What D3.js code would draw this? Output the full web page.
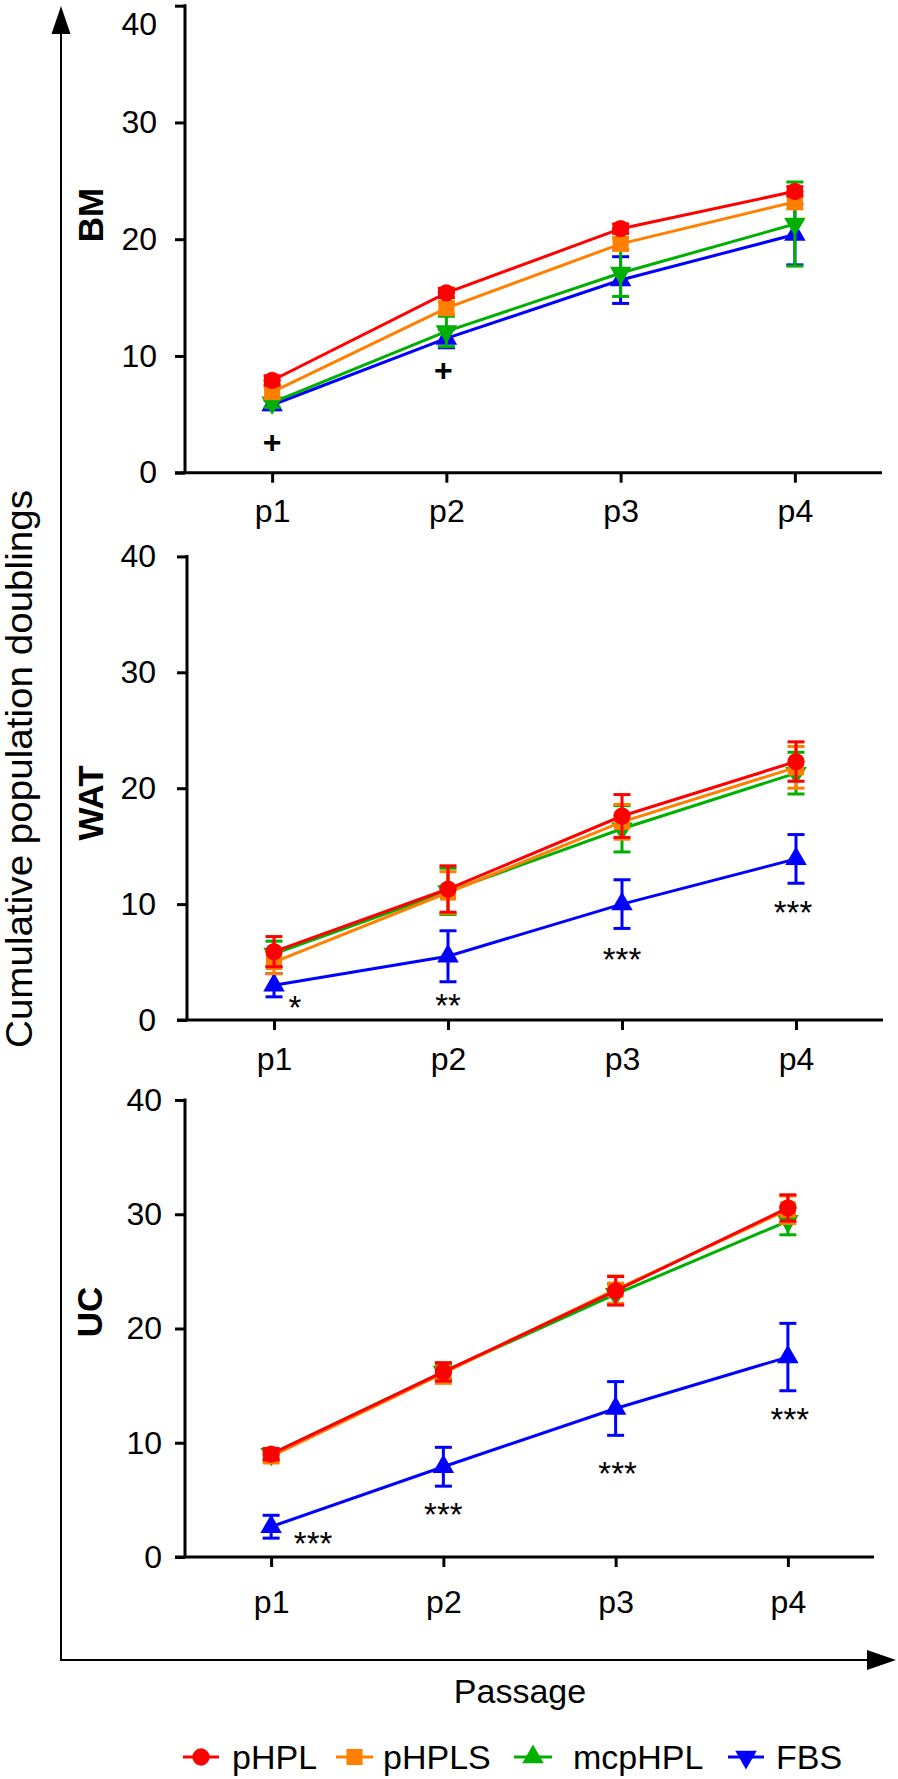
<!DOCTYPE html>
<html><head><meta charset="utf-8">
<script src="https://cdn.jsdelivr.net/npm/d3@7"></script>
<style>body{margin:0;background:#fff} svg{display:block} text{font-family:"Liberation Sans",Arial,Helvetica,sans-serif}</style>
</head><body><svg id="c" width="898" height="1779"></svg>
<script>
// ---------- data ----------
const passages = ["p1","p2","p3","p4"];
const seriesNames = ["pHPL","pHPLS","mcpHPL","FBS"];
const yTickValues = [0,10,20,30,40];
const panelNames = ["BM","WAT","UC"];

// BM
const bmPHPL      = [7.9, 15.4, 20.9, 24.1];
const bmPHPLErr   = [0.4, 0.4, 0.4, 0.4];
const bmPHPLS     = [6.9, 14.1, 19.6, 23.2];
const bmPHPLSErr  = [0.5, 0.5, 0.5, 0.6];
const bmMcpHPL    = [6.0, 12.1, 17.1, 21.3];
const bmMcpHPLErr = [0.4, 1.3, 2.0, 3.6];
const bmFBS       = [5.8, 11.5, 16.5, 20.4];
const bmFBSErr    = [0.4, 0.8, 2.0, 2.6];
const bmSig       = ["+", "+", "", ""];
const bmSigY      = [2.65, 8.8, 0, 0];

// WAT
const watPHPL      = [5.9, 11.3, 17.6, 22.3];
const watPHPLErr   = [1.3, 2.0, 1.85, 1.7];
const watPHPLS     = [5.0, 11.0, 17.1, 21.8];
const watPHPLSErr  = [1.0, 1.8, 1.5, 1.8];
const watMcpHPL    = [5.7, 11.1, 16.5, 21.3];
const watMcpHPLErr = [1.1, 2.0, 2.0, 1.8];
const watFBS       = [3.0, 5.5, 10.0, 13.9];
const watFBSErr    = [1.0, 2.2, 2.1, 2.1];
const watSig       = ["*", "**", "***", "***"];
const watSigY      = [1.7, 1.9, 5.9, 9.9];

// UC
const ucPHPL      = [9.0, 16.2, 23.3, 30.55];
const ucPHPLErr   = [0.5, 0.8, 1.25, 1.15];
const ucPHPLS     = [8.8, 16.1, 23.4, 30.4];
const ucPHPLSErr  = [0.5, 0.9, 1.2, 1.2];
const ucMcpHPL    = [9.0, 16.2, 23.0, 29.4];
const ucMcpHPLErr = [0.4, 0.6, 0.9, 1.2];
const ucFBS       = [2.65, 7.9, 13.0, 17.5];
const ucFBSErr    = [1.0, 1.7, 2.35, 2.95];
const ucSig       = ["***", "***", "***", "***"];
const ucSigY      = [1.8, 4.4, 8.0, 12.7];

// ---------- styles / layout ----------
const colors = {pHPL:"#ff0000", pHPLS:"#ff8000", mcpHPL:"#00b000", FBS:"#0000ff"};
const plotShape = {pHPL:"circle", pHPLS:"square", mcpHPL:"tdown", FBS:"tup"};
const legendShape = {pHPL:"circle", pHPLS:"square", mcpHPL:"tup", FBS:"tdown"};

const panels = [
  {name:"BM", left:185, right:882, top:5.7, bottom:472.7, labelX:103, labelY:215, tickPad:18, xPad:17,
   series:{pHPL:[bmPHPL,bmPHPLErr], pHPLS:[bmPHPLS,bmPHPLSErr], mcpHPL:[bmMcpHPL,bmMcpHPLErr], FBS:[bmFBS,bmFBSErr]},
   sig:bmSig, sigY:bmSigY, sigDx:[0,-3,0,0]},
  {name:"WAT", left:187, right:883, top:556.4, bottom:1020, labelX:103, labelY:803, tickPad:21, xPad:17,
   series:{pHPL:[watPHPL,watPHPLErr], pHPLS:[watPHPLS,watPHPLSErr], mcpHPL:[watMcpHPL,watMcpHPLErr], FBS:[watFBS,watFBSErr]},
   sig:watSig, sigY:watSigY, sigDx:[21,0,0,-3]},
  {name:"UC", left:185, right:874, top:1100, bottom:1557, labelX:102, labelY:1312, tickPad:13, xPad:23,
   series:{pHPL:[ucPHPL,ucPHPLErr], pHPLS:[ucPHPLS,ucPHPLSErr], mcpHPL:[ucMcpHPL,ucMcpHPLErr], FBS:[ucFBS,ucFBSErr]},
   sig:ucSig, sigY:ucSigY, sigDx:[42,0,2,2]}
];

const svg = d3.select("#c");

function symbolPath(shape){
  if(shape==="circle") return d3.symbol(d3.symbolCircle, 235)();
  if(shape==="square") return d3.symbol(d3.symbolSquare, 260)();
  return d3.symbol(d3.symbolTriangle, 200)();
}
function drawMarker(g, shape, x, y, color){
  g.append("path").attr("d", symbolPath(shape))
    .attr("transform", `translate(${x},${y})` + (shape==="tdown" ? " rotate(180)" : ""))
    .attr("fill", color);
}

const drawOrder = ["FBS","mcpHPL","pHPLS","pHPL"];

panels.forEach(p => {
  const x = d3.scalePoint().domain(passages).range([p.left, p.right]).padding(0.5);
  const y = d3.scaleLinear().domain([0,40]).range([p.bottom, p.top]);
  const g = svg.append("g");

  // y axis
  const ya = g.append("g").attr("transform", `translate(${p.left},0)`)
    .call(d3.axisLeft(y).tickValues(yTickValues).tickSize(10).tickPadding(p.tickPad).tickSizeOuter(0));
  ya.select(".domain").remove();
  ya.selectAll(".tick line").attr("stroke","#000").attr("stroke-width",3);
  ya.selectAll(".tick text").attr("font-size",32).attr("fill","#000")
    .style("font-family",'"Liberation Sans",Arial,sans-serif');
  // keep the top label inside the page (reference shows it fully)
  ya.selectAll(".tick text").filter(d => y(d) < 16).attr("y", 19);

  // x axis
  const xa = g.append("g").attr("transform", `translate(0,${p.bottom})`)
    .call(d3.axisBottom(x).tickSize(10).tickPadding(p.xPad).tickSizeOuter(0));
  xa.select(".domain").remove();
  xa.selectAll(".tick line").attr("stroke","#000").attr("stroke-width",3);
  xa.selectAll(".tick text").attr("font-size",32).attr("fill","#000")
    .style("font-family",'"Liberation Sans",Arial,sans-serif');

  // axis lines
  g.append("line").attr("x1",p.left).attr("x2",p.left).attr("y1",y(40)-1.5).attr("y2",p.bottom)
    .attr("stroke","#000").attr("stroke-width",3);
  g.append("line").attr("x1",p.left-10).attr("x2",p.right).attr("y1",p.bottom).attr("y2",p.bottom)
    .attr("stroke","#000").attr("stroke-width",3);

  // panel label
  g.append("text").attr("transform",`translate(${p.labelX},${p.labelY}) rotate(-90)`)
    .attr("text-anchor","middle").attr("font-size",35).attr("font-weight","bold").text(p.name);

  // series
  drawOrder.forEach(s => {
    const [vals, errs] = p.series[s];
    const col = colors[s];
    const line = d3.line().x((d,i)=>x(passages[i])).y(d=>y(d));
    g.append("path").attr("d", line(vals)).attr("fill","none").attr("stroke",col).attr("stroke-width",3);
    vals.forEach((v,i) => {
      const cx = x(passages[i]);
      const e = errs[i];
      if(e > 0){
        g.append("line").attr("x1",cx).attr("x2",cx).attr("y1",y(v+e)).attr("y2",y(v-e))
          .attr("stroke",col).attr("stroke-width",3);
        [v+e, v-e].forEach(w => g.append("line").attr("x1",cx-8.5).attr("x2",cx+8.5)
          .attr("y1",y(w)).attr("y2",y(w)).attr("stroke",col).attr("stroke-width",3));
      }
      drawMarker(g, plotShape[s], cx, y(v), col);
    });
  });

  // significance marks
  p.sig.forEach((t,i) => {
    if(!t) return;
    const cx = x(passages[i]) + p.sigDx[i];
    const cy = y(p.sigY[i]);
    if(t === "+"){
      g.append("text").attr("x",cx).attr("y",cy+11).attr("text-anchor","middle")
        .attr("font-size",32).attr("font-weight","bold").text(t);
    } else {
      g.append("text").attr("x",cx).attr("y",cy+19).attr("text-anchor","middle")
        .attr("font-size",33).text(t);
    }
  });
});

// global axes with arrows
svg.append("line").attr("x1",61).attr("x2",61).attr("y1",1661).attr("y2",30).attr("stroke","#000").attr("stroke-width",2);
svg.append("path").attr("d","M61,6 L51.5,34 L70.5,34 Z").attr("fill","#000");
svg.append("line").attr("x1",60).attr("x2",870).attr("y1",1660).attr("y2",1660).attr("stroke","#000").attr("stroke-width",2);
svg.append("path").attr("d","M896,1660 L867,1650 L867,1670 Z").attr("fill","#000");

svg.append("text").attr("transform","translate(32,769) rotate(-90)").attr("text-anchor","middle")
  .attr("font-size",36).attr("textLength",558).attr("lengthAdjust","spacingAndGlyphs")
  .text("Cumulative population doublings");
svg.append("text").attr("x",520).attr("y",1703).attr("text-anchor","middle").attr("font-size",34).text("Passage");

// legend
const legendPos = [
  {x1:183, x2:219, tx:232},
  {x1:336, x2:373, tx:383},
  {x1:514, x2:552, tx:573},
  {x1:728, x2:764, tx:776}
];
const legY = 1757;
seriesNames.forEach((s,i) => {
  const lp = legendPos[i];
  const col = colors[s];
  svg.append("line").attr("x1",lp.x1).attr("x2",lp.x2).attr("y1",legY).attr("y2",legY).attr("stroke",col).attr("stroke-width",3);
  drawMarker(svg, legendShape[s], (lp.x1+lp.x2)/2, legY, col);
  svg.append("text").attr("x",lp.tx).attr("y",legY+12).attr("font-size",34).text(s);
});
</script></body></html>
